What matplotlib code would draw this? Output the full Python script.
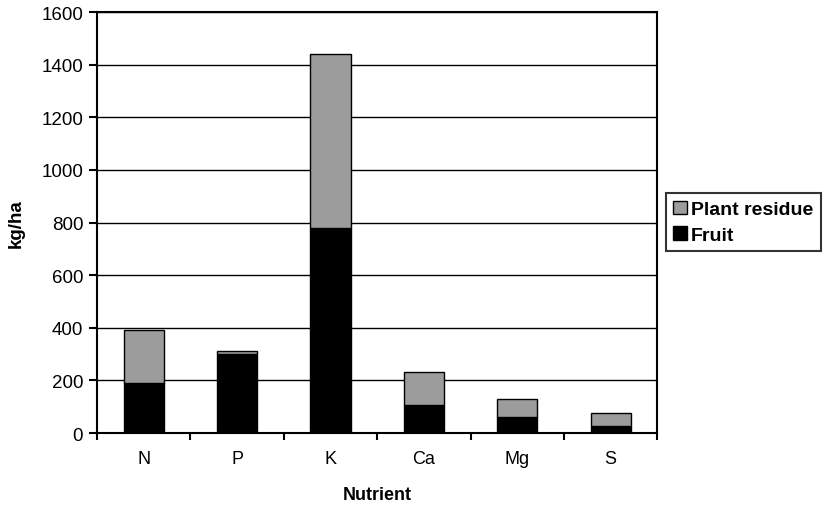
import matplotlib.pyplot as plt
import numpy as np

plt.rcParams['font.family'] = ['Liberation Sans', 'DejaVu Sans']

# Nährstoffe und Werte (kg/ha)
nutrients = ['N', 'P', 'K', 'Ca', 'Mg', 'S']
fruit = [190, 300, 780, 105, 60, 28]
plant_residue = [200, 12, 660, 125, 68, 47]

fig = plt.figure(figsize=(8.3, 5.1), dpi=100)
ax = fig.add_axes([0.117, 0.149, 0.675, 0.8255])

x = np.arange(len(nutrients))
w = 0.43
ax.bar(x, fruit, w, color='black', edgecolor='black', linewidth=1, label='Fruit', zorder=3)
ax.bar(x, plant_residue, w, bottom=fruit, color='#9c9c9c', edgecolor='black',
       linewidth=1, label='Plant residue', zorder=3)

ax.set_xlim(-0.5, len(nutrients) - 0.5)
ax.set_ylim(0, 1600)
ax.set_yticks(range(0, 1601, 200))
ax.yaxis.grid(True, color='black', linewidth=1, zorder=0)

# Striche zwischen den Kategorien, Beschriftung in der Mitte
ax.set_xticks(np.arange(-0.5, len(nutrients)), labels=[''] * (len(nutrients) + 1))
ax.set_xticks(x, labels=nutrients, minor=True)
ax.tick_params(axis='x', which='minor', length=0, pad=12, labelsize=13)
ax.tick_params(axis='x', which='major', length=5, width=1.5, direction='out')
ax.tick_params(axis='y', length=6, width=1.5, direction='out', labelsize=13.5, pad=4)

for s in ax.spines.values():
    s.set_linewidth(1.5)

ax.set_xlabel('Nutrient', fontweight='bold', fontsize=13, labelpad=14)
ax.set_ylabel('kg/ha', fontweight='bold', fontsize=13.5, labelpad=12)

handles, labels = ax.get_legend_handles_labels()
leg = fig.legend(handles[::-1], labels[::-1], loc='upper left', bbox_to_anchor=(0.802, 0.62),
                 frameon=True, fancybox=False, edgecolor='black',
                 handlelength=0.7, handleheight=0.7, handletextpad=0.2, borderpad=0.4,
                 borderaxespad=0, labelspacing=0.4, prop={'weight': 'bold', 'size': 14})
leg.get_frame().set_linewidth(1.5)

fig.savefig('out.png', dpi=100)
